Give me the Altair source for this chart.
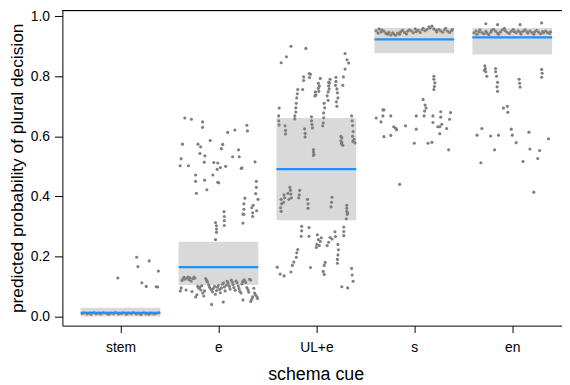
import json
import altair as alt
import pandas as pd

categories = ["stem", "e", "UL+e", "s", "en"]
ci_low = [0.000, 0.105, 0.320, 0.877, 0.873]
ci_high = [0.029, 0.249, 0.661, 0.961, 0.961]
means = [0.012, 0.164, 0.491, 0.923, 0.930]

# jitter offsets (in category units) and predicted probabilities per category
stem_dx = [-0.39, -0.37, -0.34, -0.31, -0.30, -0.27, -0.25, -0.22, -0.20, -0.17, -0.14,
           -0.12, -0.10, -0.07, -0.05, -0.02, 0.01, 0.03, 0.06, 0.08, 0.11, 0.13, 0.16,
           0.19, 0.21, 0.24, 0.26, 0.29, 0.31, 0.34, 0.36, 0.39,
           0.165, 0.293, 0.178, 0.387, -0.027, 0.218, 0.263, 0.365, 0.380]
stem_y = [0.010, 0.012, 0.008, 0.011, 0.007, 0.013, 0.009, 0.011, 0.008, 0.012, 0.010,
          0.007, 0.011, 0.009, 0.013, 0.008, 0.010, 0.012, 0.007, 0.011, 0.009, 0.013, 0.008,
          0.010, 0.006, 0.012, 0.009, 0.007, 0.011, 0.008, 0.010, 0.012,
          0.197, 0.185, 0.166, 0.151, 0.128, 0.112, 0.100, 0.099, 0.098]

e_dx = [-0.343, -0.276, -0.162, -0.162, 0.290, 0.296, 0.168, 0.094, -0.084, -0.367, -0.209,
        -0.182, 0.044, 0.030, 0.205, -0.189, -0.138, 0.145, 0.212, -0.381, -0.145, -0.047,
        -0.007, 0.374, -0.391, -0.306, 0.020, 0.074, -0.013, 0.232, 0.240, -0.233, -0.057,
        -0.233, -0.141, -0.007, 0.003, 0.387, 0.387, -0.118, -0.225, 0.381, 0.270, 0.404,
        0.260, 0.260, 0.390, 0.350, 0.057, 0.260,
        0.060, 0.060, 0.060, 0.250, 0.350, 0.250, -0.030, -0.020, -0.020, -0.020, -0.030,
        0.340, 0.355,
        -0.39, -0.38, -0.372, -0.36, -0.351, -0.342, -0.33, -0.322, -0.309, -0.30, -0.291,
        -0.279, -0.27, -0.262, -0.248, -0.241, -0.232, -0.219, -0.211, -0.2, -0.192, -0.18,
        -0.171, -0.16, -0.149, -0.142, -0.13, -0.121, -0.112, -0.098, -0.091, -0.08, -0.069,
        -0.061, -0.052, -0.04, -0.031, -0.019, -0.011, 0.0, 0.012, 0.019, 0.031, 0.04,
        0.052, 0.061, 0.068, 0.081, 0.09, 0.099, 0.112, 0.119, 0.131, 0.142, 0.149, 0.158,
        0.171, 0.18, 0.189, 0.202, 0.211, 0.218, 0.231, 0.24, 0.248, 0.261, 0.27, 0.279,
        0.29, 0.302, 0.309, 0.318, 0.329, 0.341, 0.349, 0.361, 0.369, 0.378, 0.391, 0.4,
        -0.07, 0.05, 0.25, 0.33]
e_y = [0.661, 0.657, 0.648, 0.630, 0.637, 0.618, 0.621, 0.613, 0.586, 0.574, 0.574,
       0.565, 0.573, 0.559, 0.555, 0.543, 0.535, 0.532, 0.532, 0.525, 0.514, 0.513,
       0.511, 0.515, 0.502, 0.502, 0.496, 0.500, 0.490, 0.493, 0.495, 0.471, 0.471,
       0.450, 0.454, 0.447, 0.445, 0.450, 0.430, 0.422, 0.410, 0.409, 0.394, 0.390,
       0.375, 0.357, 0.352, 0.345, 0.349, 0.340,
       0.333, 0.319, 0.303, 0.341, 0.333, 0.311, 0.313, 0.302, 0.291, 0.280, 0.256,
       0.362, 0.370,
       0.085, 0.095, 0.120, 0.126, 0.130, 0.124, 0.088, 0.128, 0.131, 0.122, 0.129,
       0.118, 0.083, 0.126, 0.131, 0.127, 0.065, 0.072, 0.100, 0.094, 0.097, 0.088,
       0.102, 0.078, 0.068, 0.085, 0.126, 0.120, 0.115, 0.105, 0.098, 0.092, 0.088,
       0.082, 0.093, 0.100, 0.074, 0.086, 0.097, 0.103, 0.090, 0.079, 0.095, 0.107,
       0.112, 0.098, 0.085, 0.104, 0.117, 0.110, 0.100, 0.091, 0.121, 0.115, 0.106, 0.096,
       0.087, 0.118, 0.112, 0.101, 0.093, 0.084, 0.078, 0.108, 0.116, 0.122, 0.119, 0.113,
       0.096, 0.089, 0.081, 0.124, 0.121, 0.057, 0.065, 0.094, 0.078, 0.072, 0.066, 0.060,
       0.040, 0.048, 0.055, 0.050]

ule_dx = [-0.259, -0.107, -0.306, -0.360, 0.293, 0.313, 0.330, 0.293, 0.276, 0.270,
          -0.074, -0.060, -0.130, -0.130, -0.070, 0.040, 0.020, 0.030, 0.020, 0.025,
          -0.010, -0.005, -0.015, -0.140,
          -0.190, -0.195, -0.200, -0.205, -0.210, -0.210, -0.220, -0.220,
          0.140, 0.135, 0.125, 0.125, 0.130, 0.120, 0.110, 0.120,
          0.200, 0.200, 0.195, 0.210, 0.215, 0.220, 0.205, 0.210,
          0.080, 0.085, 0.075, 0.075, 0.070, 0.065,
          -0.050, -0.050, -0.045, -0.040,
          -0.380, -0.385, -0.383, -0.380, -0.320, -0.315, -0.315,
          -0.120, -0.115, -0.115,
          0.360, 0.365, 0.370, 0.375, 0.370, 0.372,
          0.250, 0.250, 0.260, 0.255, -0.030, -0.030, -0.025, -0.030, 0.260, 0.270,
          0.385, 0.395,
          -0.360, -0.355, -0.365, -0.360, -0.330, -0.325, -0.335,
          -0.270, -0.265, -0.260, -0.255, -0.280, -0.290,
          -0.170, -0.175, -0.180, -0.090, -0.085, -0.085,
          0.160, 0.155, 0.150, 0.310, 0.310, 0.310, 0.315, 0.305, 0.320,
          -0.150, -0.150, -0.155, -0.075, -0.075,
          0.010, 0.020, 0.005, 0.000, 0.040, 0.030, 0.050,
          0.140, 0.125, 0.110, 0.160, 0.190, 0.195,
          0.220, 0.225, 0.220, 0.215, 0.215, 0.280, 0.280, 0.280,
          -0.190, -0.200, -0.205, -0.230, -0.245, -0.260, -0.060,
          -0.400, -0.370, -0.330, 0.070, 0.080, 0.090, 0.080,
          0.360, 0.365, 0.375, 0.260, 0.320]
ule_y = [0.900, 0.893, 0.865, 0.845, 0.876, 0.855, 0.844, 0.824, 0.798, 0.770,
         0.809, 0.807, 0.798, 0.786, 0.796, 0.793, 0.777, 0.768, 0.760, 0.750,
         0.748, 0.738, 0.734, 0.756,
         0.756, 0.742, 0.728, 0.710, 0.695, 0.681, 0.668, 0.658,
         0.790, 0.778, 0.780, 0.768, 0.758, 0.748, 0.735, 0.720,
         0.797, 0.783, 0.770, 0.758, 0.745, 0.728, 0.715, 0.700,
         0.710, 0.695, 0.678, 0.662, 0.645, 0.635,
         0.665, 0.652, 0.640, 0.628,
         0.694, 0.668, 0.652, 0.638, 0.635, 0.620, 0.608,
         0.625, 0.610, 0.598,
         0.668, 0.652, 0.636, 0.616, 0.600, 0.583,
         0.600, 0.585, 0.595, 0.575, 0.556, 0.548, 0.540, 0.536, 0.580, 0.570,
         0.590, 0.578,
         0.390, 0.375, 0.362, 0.350, 0.405, 0.395, 0.380,
         0.430, 0.420, 0.408, 0.395, 0.390, 0.410,
         0.420, 0.405, 0.395, 0.390, 0.375, 0.360,
         0.397, 0.380, 0.365, 0.370, 0.360, 0.350, 0.340, 0.325, 0.345,
         0.300, 0.285, 0.267, 0.296, 0.267,
         0.272, 0.256, 0.240, 0.230, 0.250, 0.236, 0.262,
         0.263, 0.247, 0.236, 0.258, 0.282, 0.266,
         0.240, 0.222, 0.205, 0.190, 0.177, 0.298, 0.283, 0.269,
         0.223, 0.212, 0.197, 0.181, 0.170, 0.148, 0.163,
         0.164, 0.141, 0.135, 0.150, 0.140, 0.180, 0.170,
         0.160, 0.138, 0.117, 0.099, 0.095]

s_dx = [-0.39, -0.37, -0.36, -0.34, -0.33, -0.31, -0.29, -0.27, -0.26, -0.24, -0.22, -0.21,
        -0.19, -0.17, -0.15, -0.14, -0.12, -0.10, -0.08, -0.07, -0.05, -0.03, -0.01, 0.01,
        0.02, 0.04, 0.06, 0.08, 0.09, 0.11, 0.13, 0.15, 0.16, 0.18, 0.20, 0.22, 0.23, 0.25,
        0.27, 0.29, 0.31, 0.32, 0.34, 0.36, 0.38, 0.39,
        0.20, 0.20, 0.21, 0.205, 0.20, 0.09, 0.11, 0.12, 0.105,
        -0.32, -0.31, -0.39, -0.32, -0.24, -0.34, 0.02, 0.10, 0.19, 0.27, 0.36, 0.37, 0.27,
        0.19, 0.24, 0.26, 0.28, 0.33, -0.21, -0.18, -0.19, -0.09, 0.02, 0.26, -0.31, -0.24,
        0.00, 0.14, 0.18, 0.35, -0.15]
s_y = [0.952, 0.944, 0.958, 0.948, 0.955, 0.950, 0.943, 0.940, 0.947, 0.938, 0.945, 0.941,
       0.937, 0.944, 0.940, 0.948, 0.953, 0.946, 0.941, 0.950, 0.955, 0.951, 0.945, 0.958,
       0.949, 0.953, 0.946, 0.955, 0.960, 0.952, 0.957, 0.965, 0.961, 0.967, 0.958, 0.954,
       0.948, 0.956, 0.951, 0.947, 0.955, 0.960, 0.950, 0.946, 0.952, 0.957,
       0.800, 0.790, 0.778, 0.766, 0.756, 0.723, 0.704, 0.694, 0.684,
       0.688, 0.688, 0.661, 0.668, 0.668, 0.648, 0.668, 0.668, 0.668, 0.664, 0.657, 0.679,
       0.682, 0.646, 0.632, 0.632, 0.640, 0.626, 0.632, 0.622, 0.627, 0.635, 0.624, 0.609,
       0.599, 0.603, 0.577, 0.577, 0.580, 0.555, 0.440]

en_dx = [-0.39, -0.37, -0.36, -0.34, -0.33, -0.31, -0.29, -0.27, -0.26, -0.24, -0.22, -0.21,
         -0.19, -0.17, -0.15, -0.14, -0.12, -0.10, -0.08, -0.07, -0.05, -0.03, -0.01, 0.01,
         0.02, 0.04, 0.06, 0.08, 0.09, 0.11, 0.13, 0.15, 0.16, 0.18, 0.20, 0.22, 0.23, 0.25,
         0.27, 0.29, 0.31, 0.32, 0.34, 0.36, 0.38, 0.39,
         -0.27, -0.15, 0.08, 0.30,
         -0.28, -0.275, -0.27, -0.26, -0.285, -0.17, -0.17, -0.16, -0.15, -0.155, -0.15,
         0.07, 0.075, 0.08, 0.30, 0.305, 0.30, -0.05, -0.09, -0.045,
         -0.31, -0.36, -0.22, -0.14, -0.01, 0.00, 0.17, 0.37, 0.04,
         -0.18, 0.18, 0.28, 0.26, -0.32, 0.11, 0.22]
en_y = [0.945, 0.951, 0.940, 0.948, 0.955, 0.946, 0.942, 0.950, 0.944, 0.939, 0.947, 0.953,
        0.957, 0.950, 0.944, 0.940, 0.948, 0.955, 0.960, 0.952, 0.946, 0.943, 0.950, 0.956,
        0.949, 0.945, 0.952, 0.947, 0.941, 0.950, 0.955, 0.948, 0.944, 0.951, 0.946, 0.940,
        0.948, 0.953, 0.947, 0.942, 0.949, 0.945, 0.951, 0.946, 0.943, 0.948,
        0.975, 0.972, 0.972, 0.978,
        0.835, 0.826, 0.815, 0.800, 0.820, 0.826, 0.815, 0.800, 0.780, 0.765, 0.750,
        0.790, 0.777, 0.764, 0.823, 0.810, 0.797, 0.700, 0.694, 0.680,
        0.626, 0.604, 0.601, 0.604, 0.624, 0.604, 0.614, 0.592, 0.579,
        0.555, 0.558, 0.553, 0.526, 0.512, 0.516, 0.414]

all_dx = [stem_dx, e_dx, ule_dx, s_dx, en_dx]
all_y = [stem_y, e_y, ule_y, s_y, en_y]

HALF = 0.407
rows = []
for i, (dxs, ys) in enumerate(zip(all_dx, all_y)):
    for dx, yv in zip(dxs, ys):
        rows.append({"cue": categories[i], "x": i + 1 + dx, "p": yv})
pts = pd.DataFrame(rows)

summ = pd.DataFrame({
    "cue": categories,
    "x0": [i + 1 - HALF for i in range(len(categories))],
    "x1": [i + 1 + HALF for i in range(len(categories))],
    "lo": ci_low, "hi": ci_high, "mean": means,
})

W, H = 505, 319
xscale = alt.Scale(domain=[0.407, 5.508], nice=False, zero=False)
yscale = alt.Scale(domain=[-0.0307, 1.0208], nice=False, zero=False)
FONT = "Liberation Sans"
label_expr = "%s[datum.value - 1]" % json.dumps(categories)

x_axis = alt.Axis(values=[1, 2, 3, 4, 5], labelExpr=label_expr, title="schema cue",
                  grid=False, domain=True, domainColor="black", tickColor="black",
                  tickSize=7, labelFontSize=14, labelColor="black", labelPadding=8,
                  labelFont=FONT, titleFont=FONT, titleFontSize=18,
                  titleFontWeight="normal", titleColor="black", titleX=256, titleY=54,
                  titleBaseline="alphabetic", titleAlign="center", labelFlush=False)
y_axis = alt.Axis(values=[0, 0.2, 0.4, 0.6, 0.8, 1.0], format=".1f",
                  title="predicted probability of plural decision", grid=False,
                  domain=True, domainColor="black", tickColor="black", tickSize=8,
                  labelPadding=5, labelFontSize=14, labelColor="black", labelFont=FONT,
                  titleFont=FONT, titleFontSize=17.5, titleFontWeight="normal",
                  titleColor="black", titleX=-40, titleY=159.5, titleAngle=-90,
                  titleBaseline="alphabetic", titleAlign="center", labelFlush=False)

rects = alt.Chart(summ).mark_rect(color="#D9D9D9").encode(
    x=alt.X("x0:Q", scale=xscale, axis=x_axis),
    x2="x1:Q",
    y=alt.Y("lo:Q", scale=yscale, axis=y_axis),
    y2="hi:Q",
)
points = alt.Chart(pts).mark_circle(size=10, color="#7F7F7F", opacity=1).encode(
    x=alt.X("x:Q", scale=xscale, axis=x_axis),
    y=alt.Y("p:Q", scale=yscale, axis=y_axis),
)
mean_lines = alt.Chart(summ).mark_rule(color="#1E90FF", strokeWidth=2.3).encode(
    x=alt.X("x0:Q", scale=xscale, axis=x_axis),
    x2="x1:Q",
    y=alt.Y("mean:Q", scale=yscale, axis=y_axis),
)
# top border of the plot box (the box runs past the right edge of the figure)
top_line = alt.Chart(summ).mark_rule(color="black", strokeWidth=1).encode(
    x=alt.value(0), x2=alt.value(W), y=alt.value(0.5)
)

chart = alt.layer(rects, points, mean_lines, top_line).properties(
    width=W, height=H,
    autosize=alt.AutoSizeParams(type="none"),
    padding={"left": 55, "top": 0, "right": 0, "bottom": 62},
).configure_view(stroke=None)

chart.save("out.html", embed_options={"renderer": "svg", "actions": False})
